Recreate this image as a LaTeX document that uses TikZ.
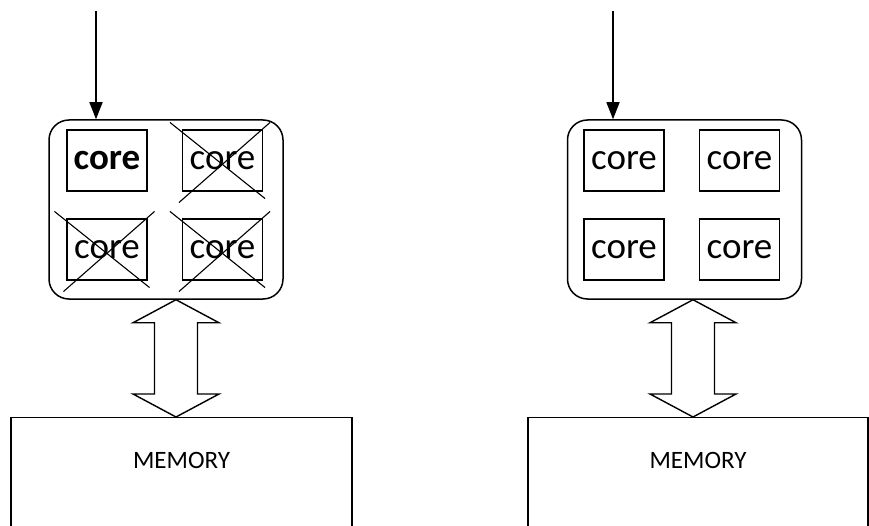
\documentclass[tikz,border=0pt]{standalone}
\usepackage{fontspec}
\setmainfont{Carlito}
\usetikzlibrary{arrows.meta,positioning,calc}

\begin{document}
\begin{tikzpicture}[
    x=1pt, y=-1pt,
    chip/.style={rectangle, rounded corners=20pt, draw, line width=1.5pt, minimum width=234pt, minimum height=179pt},
    core/.style={rectangle, draw, line width=1.2pt, minimum width=80pt, minimum height=61pt, inner sep=0pt, text centered, font=\fontsize{37}{41}\selectfont},
    membox/.style={rectangle, draw, line width=1.4pt, minimum width=341pt, minimum height=130pt, anchor=north},
    memtext/.style={font=\fontsize{25}{29}\selectfont},
    crossline/.style={line width=1.1pt},
    bus/.style={line width=1.4pt, line join=miter},
    arrow/.style={line width=1.5pt, -{Triangle[length=17pt,width=13pt]}}
]
\useasboundingbox (0,0) rectangle (869,526);
\clip (0,0) rectangle (869,526);

% left side: one core busy
\node (chipL) [chip] at (166,209.5) {};
\node (coreLa) [core] at (107,160.5) {\bfseries core};
\node (coreLb) [core] at (222.5,160.5) {core};
\node (coreLc) [core] at (107,249.5) {core};
\node (coreLd) [core] at (222.5,249.5) {core};
\node (memL) [membox] at (181.5,417) {};
\node (memLtext) [memtext] at ($(memL.north)+(0,43)$) {MEMORY};

% right side: all cores busy
\node (chipR) [chip] at (684.5,209.5) {};
\node (coreRa) [core] at (624,160.5) {core};
\node (coreRb) [core] at (739.5,160.5) {core};
\node (coreRc) [core] at (624,249.5) {core};
\node (coreRd) [core] at (739.5,249.5) {core};
\node (memR) [membox, minimum width=340pt] at (698,417) {};
\node (memRtext) [memtext] at ($(memR.north)+(0,43)$) {MEMORY};

% crossed out cores
\foreach \c in {coreLb,coreLc,coreLd}
    \draw[crossline] ($(\c.north west)+(-12,-7)$) -- ($(\c.south east)+(2,7)$)
                     ($(\c.south west)+(-3,11)$) -- ($(\c.north east)+(7,-7)$);

% input arrows
\coordinate (inL) at (96,11);
\coordinate (inR) at (613,11);
\draw[arrow] (inL) -- (inL |- chipL.north);
\draw[arrow] (inR) -- (inR |- chipR.north);

% buses to memory
\coordinate (busLt) at ($(chipL.south)+(10,0)$);
\coordinate (busLb) at (busLt |- memL.north);
\coordinate (busRt) at ($(chipR.south)+(8.5,0)$);
\coordinate (busRb) at (busRt |- memR.north);
\draw[bus] (busLt) -- ++(43,23) -- ++(-21.5,0) -- ($(busLb)+(21.5,-23)$) -- ++(21.5,0) -- (busLb)
    -- ++(-43,-23) -- ++(21.5,0) -- ($(busLt)+(-21.5,23)$) -- ++(-21.5,0) -- cycle;
\draw[bus] (busRt) -- ++(43,23) -- ++(-21.5,0) -- ($(busRb)+(21.5,-23)$) -- ++(21.5,0) -- (busRb)
    -- ++(-43,-23) -- ++(21.5,0) -- ($(busRt)+(-21.5,23)$) -- ++(-21.5,0) -- cycle;

\end{tikzpicture}
\end{document}
